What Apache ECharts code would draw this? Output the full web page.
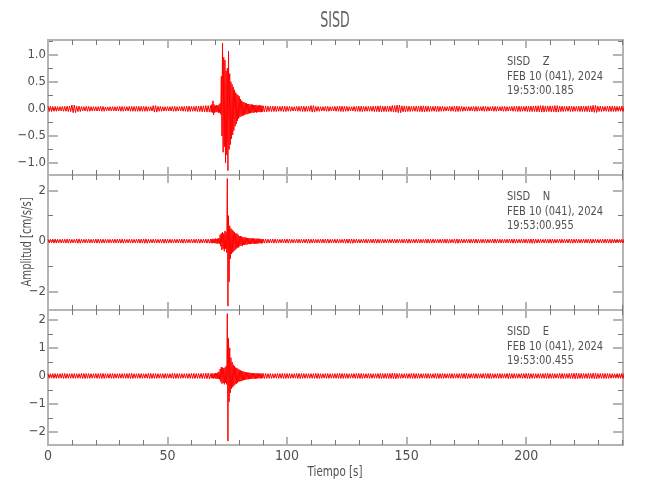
<!DOCTYPE html>
<html>
<head>
<meta charset="utf-8">
<script src="https://cdn.jsdelivr.net/npm/echarts@6/dist/echarts.min.js"></script>
<style>html,body{margin:0;padding:0;background:#fff}#c{width:650px;height:500px}</style>
</head>
<body>
<div id="c"></div>
<script>
// ---------- data ----------
// noise envelopes, 2-second bins (amplitude, symmetric)
var zPre = [0.05,0.045,0.04,0.045,0.05,0.07,0.05,0.04,0.045,0.04,0.04,0.045,0.035,0.04,0.04,0.045,0.04,0.045,0.045,0.045,0.045,0.04,0.06,0.045,0.04,0.04,0.045,0.04,0.045,0.05,0.045,0.05,0.055,0.06];
var zPost = [0.055,0.05,0.05,0.045,0.05,0.045,0.04,0.045,0.05,0.045,0.06,0.045,0.04,0.045,0.04,0.045,0.05,0.045,0.04,0.045,0.05,0.045,0.045,0.05,0.055,0.05,0.05,0.06,0.07,0.055,0.05,0.045,0.05,0.055,0.05,0.045,0.05,0.045,0.04,0.045,0.05,0.045,0.04,0.04,0.045,0.04,0.045,0.04,0.045,0.04,0.045,0.04,0.045,0.05,0.045,0.05,0.05,0.055,0.06,0.05,0.055,0.06,0.05,0.045,0.05,0.045,0.05,0.05,0.055,0.065,0.05,0.045,0.05,0.05,0.045,0.05];
// event window 68 s .. 90 s, 0.5-second bins (upper / lower extremes)
var zHi = [0.06,0.08,0.15,0.08,0.06,0.07,0.06,0.08,0.1,0.6,1.21,0.95,0.9,0.7,0.75,1.06,0.65,0.5,0.45,0.4,0.35,0.3,0.27,0.25,0.23,0.18,0.15,0.13,0.12,0.11,0.1,0.09,0.09,0.08,0.08,0.08,0.07,0.07,0.07,0.06,0.06,0.07,0.06,0.06];
var zLo = [-0.06,-0.07,-0.11,-0.07,-0.06,-0.06,-0.07,-0.07,-0.1,-0.5,-0.8,-0.7,-1.0,-0.85,-1.14,-0.75,-0.66,-0.55,-0.48,-0.4,-0.32,-0.28,-0.22,-0.18,-0.15,-0.14,-0.13,-0.12,-0.11,-0.1,-0.1,-0.09,-0.08,-0.08,-0.07,-0.07,-0.07,-0.06,-0.07,-0.06,-0.06,-0.06,-0.06,-0.05];

var nPre = [0.07,0.08,0.07,0.075,0.08,0.07,0.085,0.07,0.075,0.07,0.08,0.075,0.07,0.07,0.075,0.08,0.07,0.075,0.07,0.08,0.085,0.07,0.075,0.07,0.08,0.075,0.07,0.075,0.08,0.07,0.075,0.08,0.075,0.08];
var nPost = [0.08,0.075,0.08,0.07,0.075,0.08,0.07,0.075,0.07,0.08,0.075,0.07,0.075,0.08,0.07,0.075,0.07,0.08,0.085,0.075,0.07,0.075,0.07,0.08,0.075,0.07,0.07,0.075,0.07,0.075,0.08,0.07,0.075,0.07,0.08,0.075,0.07,0.075,0.08,0.07,0.085,0.075,0.07,0.075,0.08,0.07,0.075,0.07,0.08,0.075,0.07,0.075,0.08,0.07,0.075,0.08,0.085,0.075,0.07,0.075,0.08,0.07,0.075,0.07,0.08,0.075,0.07,0.075,0.08,0.075,0.07,0.075,0.08,0.075,0.07,0.075];
var nHi = [0.08,0.07,0.09,0.08,0.1,0.08,0.1,0.12,0.25,0.3,0.35,0.3,0.4,0.35,2.46,1.0,0.6,0.5,0.45,0.4,0.35,0.3,0.3,0.25,0.2,0.2,0.18,0.15,0.15,0.14,0.13,0.12,0.12,0.11,0.1,0.12,0.1,0.1,0.09,0.1,0.09,0.09,0.08,0.08];
var nLo = [-0.08,-0.08,-0.07,-0.08,-0.09,-0.1,-0.09,-0.1,-0.2,-0.35,-0.3,-0.4,-0.3,-0.45,-2.56,-1.6,-0.7,-0.5,-0.45,-0.4,-0.35,-0.3,-0.25,-0.25,-0.2,-0.18,-0.2,-0.15,-0.15,-0.13,-0.14,-0.12,-0.11,-0.12,-0.1,-0.1,-0.11,-0.1,-0.1,-0.09,-0.09,-0.08,-0.09,-0.08];

var ePre = [0.08,0.085,0.08,0.09,0.08,0.085,0.08,0.09,0.085,0.08,0.085,0.09,0.08,0.085,0.08,0.08,0.085,0.09,0.08,0.085,0.08,0.09,0.085,0.08,0.085,0.08,0.09,0.085,0.08,0.085,0.09,0.085,0.09,0.1];
var ePost = [0.09,0.085,0.08,0.085,0.09,0.085,0.08,0.09,0.085,0.08,0.085,0.09,0.08,0.085,0.08,0.085,0.09,0.085,0.08,0.085,0.09,0.08,0.085,0.08,0.09,0.085,0.09,0.1,0.085,0.08,0.085,0.09,0.085,0.08,0.085,0.08,0.09,0.085,0.08,0.085,0.08,0.085,0.09,0.08,0.085,0.08,0.085,0.09,0.08,0.085,0.08,0.09,0.085,0.08,0.085,0.09,0.085,0.08,0.085,0.09,0.085,0.08,0.09,0.085,0.09,0.1,0.09,0.085,0.09,0.1,0.085,0.09,0.085,0.08,0.085,0.09];
var eHi = [0.08,0.09,0.08,0.09,0.1,0.09,0.12,0.15,0.25,0.32,0.3,0.28,0.3,0.35,2.22,1.34,1.0,0.65,0.5,0.4,0.35,0.3,0.28,0.25,0.22,0.2,0.18,0.17,0.15,0.14,0.13,0.12,0.12,0.11,0.1,0.1,0.1,0.09,0.1,0.09,0.09,0.08,0.09,0.08];
var eLo = [-0.08,-0.08,-0.09,-0.08,-0.1,-0.1,-0.1,-0.12,-0.2,-0.27,-0.25,-0.3,-0.25,-0.3,-2.32,-0.92,-0.6,-0.45,-0.4,-0.35,-0.3,-0.28,-0.25,-0.2,-0.2,-0.18,-0.17,-0.15,-0.14,-0.13,-0.12,-0.12,-0.11,-0.1,-0.1,-0.1,-0.09,-0.1,-0.09,-0.09,-0.08,-0.09,-0.08,-0.08];

var preStart = 0, evtStart = 68, postStart = 90, noiseBin = 2, evtBin = 0.5;

// axes / ticks
var xMax = 240.5;
var xMajor = [0, 50, 100, 150, 200];
var xMinor = [10,20,30,40,60,70,80,90,110,120,130,140,160,170,180,190,210,220,230,240];
var panelRanges = [[-1.22, 1.27], [-2.71, 2.6], [-2.46, 2.35]];
var yMajor = [[-1, -0.5, 0, 0.5, 1], [-2, 0, 2], [-2, -1, 0, 1, 2]];
var yMinor = [[-0.75, -0.25, 0.25, 0.75, 1.25], [-1, 1], [-1.5, -0.5, 0.5, 1.5]];
var yDecimals = [1, 0, 0];

var stationName = 'SISD';
var components = ['Z', 'N', 'E'];
var dateText = 'FEB 10 (041), 2024';
var startTimes = ['19:53:00.185', '19:53:00.955', '19:53:00.455'];
var xTitle = 'Tiempo [s]';
var yTitle = 'Amplitud [cm/s/s]';

// ---------- build ----------
function buildTrace(pre, hi, lo, post) {
  var pts = [];
  pre.forEach(function (a, i) {
    var t = preStart + i * noiseBin;
    pts.push([t, a], [t + 0.5, -a], [t + 1, a], [t + 1.5, -a]);
  });
  hi.forEach(function (h, i) {
    var t = evtStart + i * evtBin;
    pts.push([t, h], [t + evtBin / 2, lo[i]]);
  });
  post.forEach(function (a, i) {
    var t = postStart + i * noiseBin;
    pts.push([t, a], [t + 0.5, -a], [t + 1, a], [t + 1.5, -a]);
  });
  return pts;
}
var traces = [buildTrace(zPre, zHi, zLo, zPost), buildTrace(nPre, nHi, nLo, nPost), buildTrace(ePre, eHi, eLo, ePost)];

var FONT = "'Liberation Sans Narrow', 'DejaVu Sans Condensed', 'Liberation Sans', sans-serif";
var TXT = '#505050';
var FRAME = '#b4b4b4';
var L = 48, R = 27, panelTop = [40, 175, 310], panelH = 135;

var grids = [], xAxes = [], yAxes = [], series = [], graphics = [];
for (var g = 0; g < 3; g++) {
  grids.push({left: L, right: R, top: panelTop[g], height: panelH, containLabel: false});
  ['bottom', 'top'].forEach(function (pos) {
    [[xMajor, 8, 2, FRAME], [xMinor, 5, 1, '#777']].forEach(function (spec, k) {
      var showLab = (pos === 'bottom' && g === 2 && k === 0);
      xAxes.push({
        type: 'value', gridIndex: g, position: pos, min: 0, max: xMax,
        axisLine: {show: true, onZero: false, lineStyle: {color: FRAME, width: 2}},
        axisTick: {show: true, inside: true, length: spec[1], customValues: spec[0], lineStyle: {color: spec[3], width: spec[2]}},
        axisLabel: {show: showLab, customValues: xMajor, color: TXT, fontFamily: FONT, fontSize: 14, margin: 4},
        splitLine: {show: false}
      });
    });
  });
  ['left', 'right'].forEach(function (pos) {
    [[yMajor[g], 10, 2, FRAME], [yMinor[g], 5, 1, '#777']].forEach(function (spec, k) {
      var showLab = (pos === 'left' && k === 0);
      var dec = yDecimals[g];
      yAxes.push({
        type: 'value', gridIndex: g, position: pos, min: panelRanges[g][0], max: panelRanges[g][1],
        axisLine: {show: true, onZero: false, lineStyle: {color: FRAME, width: 2}},
        axisTick: {show: true, inside: true, length: spec[1], customValues: spec[0], lineStyle: {color: spec[3], width: spec[2]}},
        axisLabel: {show: showLab, customValues: yMajor[g], color: TXT, fontFamily: FONT, fontSize: 13, margin: 2,
          formatter: function (v) { return Number(v).toFixed(dec).replace('-', '\u2212'); }},
        splitLine: {show: false}
      });
    });
  });
  series.push({
    type: 'line', xAxisIndex: g * 4, yAxisIndex: g * 4, data: traces[g],
    symbol: 'none', clip: true, animation: false,
    lineStyle: {color: '#ff0000', width: 1}, z: 1
  });
  var tx = 507, ty = panelTop[g] + 22;
  [stationName + '    ' + components[g], dateText, startTimes[g]].forEach(function (s, i) {
    graphics.push({type: 'text', x: tx, y: ty + i * 14.3, z: 10, scaleX: 0.85,
      style: {text: s, fill: TXT, font: '13px ' + FONT, textAlign: 'left', textVerticalAlign: 'middle'}});
  });
}
graphics.push({type: 'text', x: 335, y: 21, scaleX: 0.64, style: {text: stationName, fill: '#606060', font: '22px ' + FONT, textAlign: 'center', textVerticalAlign: 'middle'}});
graphics.push({type: 'text', x: 335, y: 472, scaleX: 0.82, style: {text: xTitle, fill: TXT, font: '14px ' + FONT, textAlign: 'center', textVerticalAlign: 'middle'}});
graphics.push({type: 'text', x: 27, y: 242, rotation: Math.PI / 2, scaleX: 0.8, style: {text: yTitle, fill: TXT, font: '14px ' + FONT, textAlign: 'center', textVerticalAlign: 'middle'}});

var chart = echarts.init(document.getElementById('c'), null, {renderer: 'canvas'});
chart.setOption({
  animation: false,
  backgroundColor: '#ffffff',
  grid: grids, xAxis: xAxes, yAxis: yAxes, series: series, graphic: graphics
});
</script>
</body>
</html>
